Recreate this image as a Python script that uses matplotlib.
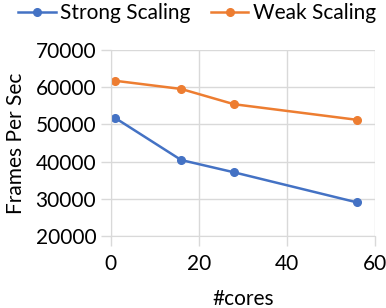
import matplotlib.pyplot as plt

cores = [1, 16, 28, 56]
strong = [51700, 40400, 37100, 29000]
weak = [61700, 59500, 55400, 51200]

plt.rcParams['font.family'] = ['Lato', 'DejaVu Sans']

fig = plt.figure(figsize=(3.86, 3.08), dpi=100)
ax = fig.add_axes([0.287, 0.234, 0.684, 0.604])

grid = '#d9d9d9'
ax.plot(cores, strong, c='#4472C4', marker='o', markersize=5.5, lw=1.8,
        label='Strong Scaling', clip_on=False)
ax.plot(cores, weak, c='#ED7D31', marker='o', markersize=5.5, lw=1.8,
        label='Weak Scaling', clip_on=False)

ax.set_xlim(0, 60)
ax.set_ylim(20000, 70000)
ax.set_xticks(range(0, 61, 20))
ax.set_yticks(range(20000, 70001, 10000))
ax.grid(True, color=grid, lw=1)
ax.set_axisbelow(True)
for s in ['top', 'right']:
    ax.spines[s].set_visible(False)
for s in ['left', 'bottom']:
    ax.spines[s].set_color(grid)
ax.tick_params(colors=grid, labelcolor='black', labelsize=15, length=7,
               width=1)
ax.tick_params(axis='x', pad=6)

ax.set_xlabel('#cores', fontsize=15, labelpad=11)
ax.set_ylabel('Frames Per Sec', fontsize=15, labelpad=7)

fig.legend(loc='upper center', bbox_to_anchor=(0.51, 1.05), ncol=2,
           frameon=False, fontsize=15, handlelength=1.8, columnspacing=1.0,
           handletextpad=0.2)

fig.savefig('out.png', dpi=100)
